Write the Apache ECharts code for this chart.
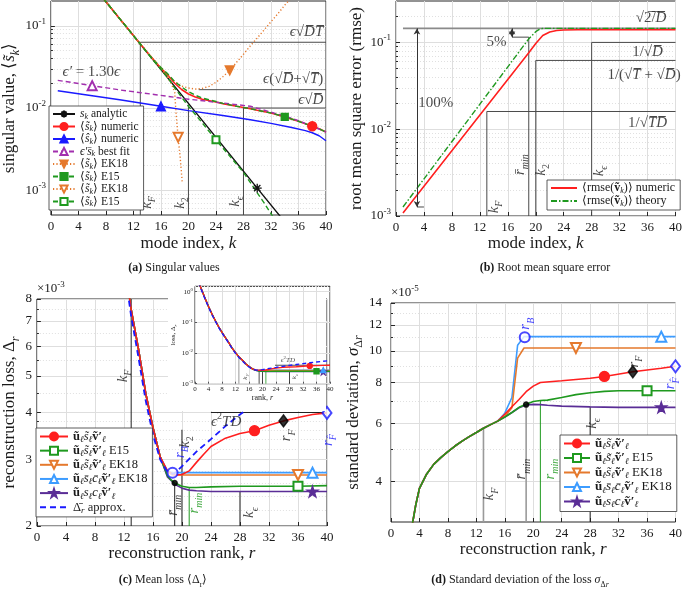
<!DOCTYPE html>
<html><head><meta charset="utf-8">
<script src="https://cdn.jsdelivr.net/npm/echarts@6.0.0/dist/echarts.min.js"></script>
<style>html,body{margin:0;padding:0;background:#fff;}#c{width:685px;height:595px;}</style>
</head><body><div id="c"></div>
<script>
// ================= DATA =================
// (a) singular values
const a_k_analytic = [1, 30, 40];
const a_s_analytic = [1.03, 0.00106, 0.0001];
const a_k_num = [1,5,10,12,13,14,15,16,17,18,19,20,21,22,24,25,27,29,30,32,34,36,38,39,40];
const a_s_num = [1.03,0.40,0.122,0.076,0.060,0.0475,0.038,0.0305,0.025,0.020,0.0168,0.0148,0.0136,0.0128,0.0118,0.0113,0.0105,0.0098,0.0094,0.0087,0.0078,0.0069,0.006,0.0056,0.0051];
const a_s_e15 = [1.03,0.40,0.122,0.076,0.060,0.0475,0.038,0.031,0.026,0.021,0.018,0.0158,0.0143,0.0132,0.012,0.0114,0.0105,0.0098,0.0094,0.0087,0.0078,0.0069,0.006,0.0056,0.0051];
const a_k_hat = [1,5,10,16,20,25,29,32,35,37,38,39,40];
const a_s_hat = [0.0162,0.0145,0.0126,0.0105,0.0093,0.0081,0.0072,0.0065,0.0058,0.0053,0.005,0.0046,0.004];
const a_k_fit = [1,6,10,15,20,25,29,32,34,36,38,40];
const a_s_fit = [0.0217,0.0187,0.0166,0.0146,0.0128,0.0115,0.0105,0.0089,0.008,0.007,0.006,0.0051];
const a_k_ek18 = [1,5,10,13,14,15,16,17,18,19,20,21,22,23,24,25,26,27,28,29,30,31,32,33,34,35];
const a_s_ek18 = [1.03,0.40,0.122,0.060,0.0475,0.038,0.031,0.025,0.021,0.0185,0.0175,0.017,0.0173,0.0183,0.0205,0.024,0.0286,0.036,0.045,0.057,0.071,0.089,0.112,0.14,0.178,0.22];
const a_k_ek18o = [1,5,10,13,14,15,16,17,17.5,18,18.2,18.5,18.8,19.1];
const a_s_ek18o = [1.03,0.40,0.122,0.060,0.0475,0.038,0.030,0.023,0.020,0.0155,0.0086,0.0044,0.0025,0.00124];
const a_k_e15o = [1,5,10,13,14,15,16,17,18,20,22,24,26,28,30,31,32,33];
const a_s_e15o = [1.03,0.40,0.122,0.060,0.047,0.037,0.0295,0.0235,0.0175,0.0105,0.0066,0.0041,0.0026,0.00165,0.00093,0.0007,0.00052,0.00038];

// (b) rmse
const b_k_num = [1,19,20,21,22,23,24,26,40];
const b_r_num = [0.00108,0.076,0.097,0.12,0.132,0.137,0.139,0.14,0.14];
const b_k_th = [1,19,20,20.5,21,21.5,40];
const b_r_th = [0.00127,0.11,0.133,0.141,0.145,0.145,0.145];

// (c) mean loss (units of 1e-3)
const c_trunk_r = [1,2,3,4,5,6,7,8,9,10,11,12,13,14,15,16,17];
const c_trunk_v = [2100,1130,600,330,190,115,72,47,32,22,14.5,10.3,7.5,5.9,4.5,3.65,3.05];
const c_red_r = [18,19,20,21,22,23,24,26,28,30,32,34,36,38,40];
const c_red_v = [2.8,2.73,2.74,2.8,2.95,3.1,3.25,3.42,3.52,3.58,3.7,3.8,3.88,3.95,3.99];
const c_e15_r = [18,18.5,19,20,21,22,24,28,32,36,40];
const c_e15_v = [2.72,2.65,2.6,2.55,2.53,2.53,2.54,2.55,2.55,2.55,2.56];
const c_ek18_r = [18,18.7,19,24,30,36,40];
const c_ek18_v = [2.78,2.73,2.73,2.73,2.73,2.73,2.73];
const c_ek18c_r = [18,18.7,24,30,38,40];
const c_ek18c_v = [2.8,2.77,2.77,2.77,2.77,2.77];
const c_pur_r = [18,18.5,19,20,21,22,24,28,32,38,40];
const c_pur_v = [2.7,2.64,2.58,2.52,2.49,2.48,2.47,2.47,2.47,2.47,2.47];
const c_appr_r = [1,2,3,4,5,6,7,8,9,10,11,12,13,14,15,16,17,18,18.7,19,20,22,24,26,28,30,32,34,36,38,40];
const c_appr_v = [2000,1080,570,315,180,110,69,45,30.5,21,14,9.8,7.2,5.6,4.3,3.5,3.0,2.78,2.75,2.76,2.88,3.15,3.4,3.68,3.95,4.22,4.5,4.8,5.1,5.4,5.7];
const c_pts_B = [18.7, 2.77], c_pts_min = [19, 2.6], c_pts_F = [34, 3.8], c_pts_Fh = [40, 3.99];

// (d) standard deviation (units of 1e-5)
const d_trunk_r = [2,3,3.5,4,5,6,7,8,9,10,11,12,13,14,15];
const d_trunk_v = [2.0,2.95,3.4,3.8,4.2,4.5,4.72,4.92,5.12,5.3,5.47,5.63,5.8,5.95,6.1];
const d_red_r = [16,17,18,19,20,21,24,28,30,34,38,40];
const d_red_v = [6.4,6.75,7.1,7.5,7.8,8.0,8.1,8.25,8.35,8.63,8.85,8.97];
const d_e15_r = [16,17,18,19,20,21,22,24,26,28,30,32,36,40];
const d_e15_v = [6.28,6.48,6.72,6.87,7.0,7.05,7.07,7.2,7.35,7.45,7.52,7.55,7.55,7.55];
const d_ek18_r = [16,17,17.8,18.7,26,40];
const d_ek18_v = [6.3,6.7,9.5,10.2,10.2,10.2];
const d_ek18c_r = [16,17,17.8,18.7,38,40];
const d_ek18c_v = [6.45,7.2,10.4,11.05,11.05,11.05];
const d_pur_r = [16,17,18,19,20,21,22,24,28,32,38,40];
const d_pur_v = [6.28,6.48,6.7,6.83,6.86,6.85,6.82,6.78,6.74,6.72,6.72,6.72];
const d_pts_B = [18.8, 11.0], d_pts_min = [19, 6.85], d_pts_F = [34, 8.63], d_pts_Fh = [40, 8.97];

// reference levels
const A_guides = [[13,5e-4,13,0.063],[13,0.063,40,0.063],[20,5e-4,20,0.011],[21.5,0.0167,40,0.0167],[28,5e-4,28,0.01],[28,0.01,40,0.01]];
const B_guides = [[28,1e-3,28,0.1],[28,0.1,40,0.1],[20,1e-3,20,0.062],[20,0.062,40,0.062],[13,1e-3,13,0.016],[13,0.016,40,0.016],[19,1e-3,19,0.115],[16.6,0.115,19,0.115],[3,0.00127,4,0.00127]];
const B_top = [[1,0.145,40,0.145]];
const C_guides = [[13,2,13,8],[19,2,19,2.6],[20,2,20,3.6],[28,2,28,2.47],[24,4,40,4]];
const C_gguides = [[21,2,21,2.53]];
const D_gray = [[13,3,13,5.8],[19,3,19,6.85]];
const D_green = [[21,3,21,7.05]];
const D_black = [[28,3,28,6.74]];
const I_gray = [[13,1e-3,13,0.0075]];
const I_black = [[19,1e-3,19,0.0026],[20,1e-3,20,0.0027],[28,1e-3,28,0.0025],[23.7,0.004,40,0.004]];
const I_green = [[21,1e-3,21,0.00253]];

// tick values
const logMajA = [1e-3,1e-2,1e-1];
const logMinA = [6e-4,7e-4,8e-4,9e-4,2e-3,3e-3,4e-3,5e-3,6e-3,7e-3,8e-3,9e-3,0.02,0.03,0.04,0.05,0.06,0.07,0.08,0.09];
const logMajB = [1e-3,1e-2,1e-1];
const logMinB = [2e-3,3e-3,4e-3,5e-3,6e-3,7e-3,8e-3,9e-3,0.02,0.03,0.04,0.05,0.06,0.07,0.08,0.09,0.2];
const majC = [2,3,4,5,6,7,8];
const minC = [2.2,2.4,2.6,2.8,3.2,3.4,3.6,3.8,4.5,5.5,6.5,7.5];
const majD = [4,6,8,10,12,14];
const minD = [5,7,9,11,13];
const majI = [1e-3,1e-2,1e-1,1];
const minI = [2e-3,3e-3,4e-3,5e-3,6e-3,7e-3,8e-3,9e-3,0.02,0.03,0.04,0.05,0.06,0.07,0.08,0.09,0.2,0.3,0.4,0.5,0.6,0.7,0.8,0.9];

// ================= STYLE / BUILD =================
const FF = 'Liberation Serif';
const TXT = '#1a1a1a';
const COL = {red:'#ff1f1f', blue:'#1a1aff', purple:'#a22fae', orange:'#e5792d', green:'#1f991f', lblue:'#3d9cff', dpurple:'#5a2d96', black:'#111111'};
const DASH = [5,3], DOT = [1.2,2.2], DASHDOT = [6,2,1.5,2];
const TFS = 17; // axis title font size

function rich(fs, L) {
  const s = Math.round(fs * 0.68);
  L = L || Math.round(fs * 1.4);
  const base = {fontFamily: FF, fontSize: fs, lineHeight: L};
  const sm = {fontFamily: FF, fontSize: s, lineHeight: s};
  return {
    n: Object.assign({}, base),
    i: Object.assign({fontStyle: 'italic'}, base),
    b: Object.assign({fontWeight: 'bold'}, base),
    sub: Object.assign({verticalAlign: 'bottom'}, sm),
    isub: Object.assign({verticalAlign: 'bottom', fontStyle: 'italic'}, sm),
    sup: Object.assign({verticalAlign: 'top'}, sm),
    isup: Object.assign({verticalAlign: 'top', fontStyle: 'italic'}, sm)
  };
}
function pow10(v) {
  const e = Math.round(Math.log10(v));
  return '{n|10}{sup|' + (e < 0 ? '-' : '') + Math.abs(e) + '}';
}
const zip = (xs, ys, f) => xs.map((x, i) => [x, f ? ys[i] * f : ys[i]]);

function curve(name, g, pts, st) {
  return {
    name, type: 'line', xAxisIndex: g, yAxisIndex: g, z: st.z || 3,
    symbol: st.symbol || 'circle', symbolSize: st.size || 7, symbolRotate: st.rotate || 0,
    showSymbol: true, clip: true, silent: true, animation: false, smooth: false,
    lineStyle: {color: st.color, width: st.width || 1.4, type: st.type || 'solid'},
    itemStyle: {color: st.color, borderColor: st.color, borderWidth: st.bw || 1.3},
    data: pts.map(p => (p[0] === st.mark ? {value: p} : {value: p, symbol: 'none'}))
  };
}
function guides(g, list, color, width, z) {
  return list.map(s => ({
    type: 'line', xAxisIndex: g, yAxisIndex: g, silent: true, symbol: 'none', z: z || 2,
    lineStyle: {color, width: width || 1, type: 'solid'}, data: [[s[0], s[1]], [s[2], s[3]]]
  }));
}
function points(g, list, z) {
  return {
    type: 'scatter', xAxisIndex: g, yAxisIndex: g, silent: true, clip: false, z: z || 5,
    data: list.map(p => ({value: p.v, symbol: p.symbol, symbolSize: p.size,
      itemStyle: {color: p.color, borderColor: p.color, borderWidth: 1.5}}))
  };
}
function notes(g, list, fs, z) {
  return {
    type: 'scatter', xAxisIndex: g, yAxisIndex: g, silent: true, clip: false, z: z || 6,
    symbol: 'circle', symbolSize: 1, itemStyle: {color: 'rgba(0,0,0,0)'},
    label: {show: true, position: 'inside', fontFamily: FF, fontSize: fs, color: TXT, rich: rich(fs)},
    data: list.map(n => ({value: [n.x, n.y], label: {formatter: () => n.t, rotate: n.r || 0,
      align: n.a || 'center', verticalAlign: 'middle', color: n.c || TXT}}))
  };
}

const grids = [
  {left: 43, top: 1, width: 283, height: 214},
  {left: 396, top: 1, width: 282, height: 215},
  {left: 31, top: 299, width: 296, height: 227},
  {left: 391, top: 303, width: 287, height: 219},
  {left: 195, top: 286.3, width: 135, height: 97.4, z: 11}
].map(g => Object.assign({show: true, borderColor: '#262626', borderWidth: 1, backgroundColor: 'rgba(0,0,0,0)', containLabel: false}, g));

function xAx(g, name, gap, extra) {
  return Object.assign({
    type: 'value', gridIndex: g, min: 0, max: 40, interval: 4, position: 'bottom',
    axisLine: {show: false},
    axisTick: {show: true, inside: true, length: 4, lineStyle: {color: '#262626'}},
    axisLabel: {fontFamily: FF, fontSize: 13, color: TXT, margin: 5},
    splitLine: {show: true, lineStyle: {color: '#dedede', width: 1}},
    name, nameLocation: 'middle', nameGap: gap,
    nameTextStyle: {fontFamily: FF, fontSize: TFS, color: TXT, rich: rich(TFS)}
  }, extra || {});
}
function yAx(g, min, max, majors, fmt, name, gap, extra) {
  return Object.assign({
    type: 'log', logBase: 10, gridIndex: g, min, max, position: 'left',
    axisLine: {show: false},
    axisTick: {show: true, inside: true, length: 4, customValues: majors, lineStyle: {color: '#262626'}},
    axisLabel: {customValues: majors, formatter: fmt, fontFamily: FF, fontSize: 13, color: TXT, margin: 5, rich: rich(13, 18)},
    splitLine: {show: true, lineStyle: {color: '#dedede', width: 1}},
    name, nameLocation: 'middle', nameRotate: 90, nameGap: gap,
    nameTextStyle: {fontFamily: FF, fontSize: TFS, color: TXT, rich: rich(TFS)}
  }, extra || {});
}
function yMinor(g, min, max, minors, extra) {
  return Object.assign({
    type: 'log', logBase: 10, gridIndex: g, min, max, position: 'left', offset: 0,
    axisLine: {show: false},
    axisTick: {show: true, inside: true, length: 2, customValues: minors, lineStyle: {color: '#262626'}},
    axisLabel: {show: false, customValues: minors},
    splitLine: {show: true, lineStyle: {color: '#e0e0e0', width: 1, type: [1, 2]}}
  }, extra || {});
}

const xAxis = [
  xAx(0, '{n|mode index, }{i|k}', 17),
  xAx(1, '{n|mode index, }{i|k}', 16),
  xAx(2, '{n|reconstruction rank, }{i|r}', 16),
  xAx(3, '{n|reconstruction rank, }{i|r}', 15),
  xAx(4, '{n|rank, }{i|r}', 9, {z: 12, axisTick: {show: true, inside: true, length: 2}, axisLabel: {fontFamily: FF, fontSize: 7, color: TXT, margin: 2},
    nameTextStyle: {fontFamily: FF, fontSize: 8, color: TXT, rich: rich(8)}})
];
const plainFmt = v => '{n|' + Math.round(v) + '}';
const yAxis = [
  yAx(0, 5e-4, 0.2, logMajA, pow10, '{n|singular value, ⟨}{i|s\u0303}{isub|k}{n|⟩}', 21),
  yAx(1, 1e-3, 0.3, logMajB, pow10, '{n|root mean square error (rmse)}', 27),
  yAx(2, 2, 8, majC, plainFmt, '{n|reconstruction loss, Δ}{isub|r}', 11),
  yAx(3, 3, 14, majD, plainFmt, '{n|standard deviation, }{i|σ}{sub|Δ}{isub|r}', 23, {axisLabel: {customValues: majD, formatter: plainFmt, fontFamily: FF, fontSize: 13, color: TXT, margin: 9, rich: rich(13, 18)}}),
  yAx(4, 1e-3, 1.5, majI, pow10, '{n|loss, Δ}{isub|r}', 13, {z: 12,
    axisTick: {show: true, inside: true, length: 2, customValues: majI},
    axisLabel: {customValues: majI, formatter: pow10, fontFamily: FF, fontSize: 7, color: TXT, margin: 2, rich: rich(7, 9)},
    nameTextStyle: {fontFamily: FF, fontSize: 7, color: TXT, rich: rich(7)}}),
  yMinor(0, 5e-4, 0.2, logMinA),
  yMinor(1, 1e-3, 0.3, logMinB),
  yMinor(2, 2, 8, minC, {name: '{n|×10}{sup|-3}', nameLocation: 'end', nameGap: 1,
    nameTextStyle: {align: 'left', fontFamily: FF, fontSize: 13, color: TXT, rich: rich(13)}}),
  yMinor(3, 3, 14, minD, {name: '{n|×10}{sup|-5}', nameLocation: 'end', nameGap: 1,
    nameTextStyle: {align: 'left', fontFamily: FF, fontSize: 13, color: TXT, rich: rich(13)}}),
  yMinor(4, 1e-3, 1.5, minI, {z: 12, axisTick: {show: false}})
];

const STAR = 'path://M50,2 L61,36 L97,36 L68,57 L79,92 L50,71 L21,92 L32,57 L3,36 L39,36 Z';
const series = [];
// ----- (a)
series.push(...guides(0, A_guides, '#4a4a4a', 1));
series.push(curve('a_an', 0, zip(a_k_analytic, a_s_analytic), {color: COL.black, symbol: 'path://M50,0 L50,100 M0,50 L100,50 M15,15 L85,85 M85,15 L15,85', size: 9, mark: 30, width: 1.4}));
series.push(curve('a_num', 0, zip(a_k_num, a_s_num), {color: COL.red, symbol: 'circle', size: 9, mark: 38, width: 1.6}));
series.push(curve('a_hat', 0, zip(a_k_hat, a_s_hat), {color: COL.blue, symbol: 'triangle', size: 9, mark: 16, width: 1.4}));
series.push(curve('a_fit', 0, zip(a_k_fit, a_s_fit), {color: COL.purple, symbol: 'emptyTriangle', size: 9, mark: 6, width: 1.4, type: DASH}));
series.push(curve('a_ek18', 0, zip(a_k_ek18, a_s_ek18), {color: COL.orange, symbol: 'triangle', rotate: 180, size: 9, mark: 26, width: 1.4, type: DOT}));
series.push(curve('a_e15', 0, zip(a_k_num, a_s_e15), {color: COL.green, symbol: 'rect', size: 7, mark: 34, width: 1.4, type: DASH}));
series.push(curve('a_ek18o', 0, zip(a_k_ek18o, a_s_ek18o), {color: COL.orange, symbol: 'emptyTriangle', rotate: 180, size: 9, mark: 18.5, width: 1.4, type: DOT}));
series.push(curve('a_e15o', 0, zip(a_k_e15o, a_s_e15o), {color: COL.green, symbol: 'emptyRect', size: 7, mark: 24, width: 1.4, type: DASH}));
series.push(notes(0, [
  {x: 39.6, y: 0.083, t: '{i|ϵ}{n|√}{i|D\u0305T\u0305}', a: 'right'},
  {x: 39.6, y: 0.0223, t: '{i|ϵ}{n|(√}{i|D\u0305}{n|+√}{i|T\u0305}{n|)}', a: 'right'},
  {x: 39.6, y: 0.0126, t: '{i|ϵ}{n|√}{i|D\u0305}', a: 'right'},
  {x: 1.7, y: 0.0275, t: '{i|ϵ′}{n| = 1.30}{i|ϵ}', a: 'left'},
  {x: 14.0, y: 7.1e-4, t: '{i|k}{isub|F}', r: 90},
  {x: 18.8, y: 7.0e-4, t: '{i|k}{sub|2}', r: 90},
  {x: 26.8, y: 7.3e-4, t: '{i|k}{isub|ϵ}', r: 90}
], 15));

// ----- (b)
series.push(...guides(1, B_top, '#8a8a8a', 1.6));
series.push(...guides(1, B_guides, '#4a4a4a', 1));
series.push({type: 'line', xAxisIndex: 1, yAxisIndex: 1, data: [], silent: true,
  markLine: {silent: true, symbol: ['arrow', 'arrow'], symbolSize: [5, 6], label: {show: false},
    lineStyle: {color: '#333', width: 1, type: 'solid'},
    data: [[{coord: [3, 0.00127]}, {coord: [3, 0.145]}], [{coord: [16.6, 0.115]}, {coord: [16.6, 0.145]}]]}});
series.push(curve('b_num', 1, zip(b_k_num, b_r_num), {color: COL.red, width: 1.6}));
series.push(curve('b_th', 1, zip(b_k_th, b_r_th), {color: COL.green, width: 1.4, type: DASHDOT}));
series.push(notes(1, [
  {x: 36.5, y: 0.19, t: '{n|√}{n|2\u0305/\u0305}{i|D\u0305}'},
  {x: 36, y: 0.078, t: '{n|1/√}{i|D\u0305}'},
  {x: 35.5, y: 0.0424, t: '{n|1/(√}{i|T\u0305}{n| + √}{i|D\u0305}{n|)}'},
  {x: 36, y: 0.0117, t: '{n|1/√}{i|T\u0305D\u0305}'},
  {x: 14.4, y: 0.1, t: '{n|5%}'},
  {x: 5.7, y: 0.02, t: '{n|100%}'},
  {x: 14.05, y: 1.27e-3, t: '{i|k}{isub|F}', r: 90},
  {x: 17.7, y: 3.9e-3, t: '{i|r\u0304}{isub|min}', r: 90},
  {x: 20.8, y: 3.4e-3, t: '{i|k}{sub|2}', r: 90},
  {x: 29.1, y: 3.3e-3, t: '{i|k}{isub|ϵ}', r: 90}
], 15));

// ----- (c)
const cAll = (r, v) => zip(c_trunk_r.concat(r), c_trunk_v.concat(v));
series.push(...guides(2, C_guides, '#222', 1));
series.push(...guides(2, C_gguides, COL.green, 1));
series.push(curve('c_pur', 2, cAll(c_pur_r, c_pur_v), {color: COL.dpurple, symbol: STAR, size: 11, mark: 38, width: 1.6}));
series.push(curve('c_ek18c', 2, cAll(c_ek18c_r, c_ek18c_v), {color: COL.lblue, symbol: 'emptyTriangle', size: 10, mark: 38, width: 1.6}));
series.push(curve('c_ek18', 2, cAll(c_ek18_r, c_ek18_v), {color: COL.orange, symbol: 'emptyTriangle', rotate: 180, size: 10, mark: 36, width: 1.6}));
series.push(curve('c_e15', 2, cAll(c_e15_r, c_e15_v), {color: COL.green, symbol: 'emptyRect', size: 9, mark: 36, width: 1.6}));
series.push(curve('c_red', 2, cAll(c_red_r, c_red_v), {color: COL.red, symbol: 'circle', size: 10, mark: 30, width: 1.6}));
series.push(curve('c_appr', 2, zip(c_appr_r, c_appr_v), {color: COL.blue, width: 1.8, type: [6, 4]}));
series.push(points(2, [
  {v: c_pts_B, symbol: 'emptyCircle', size: 10, color: COL.blue},
  {v: c_pts_min, symbol: 'circle', size: 5, color: '#000'},
  {v: c_pts_F, symbol: 'diamond', size: [9, 12], color: '#000'},
  {v: c_pts_Fh, symbol: 'emptyDiamond', size: [9, 12], color: COL.blue}
]));
series.push(notes(2, [
  {x: 26.1, y: 3.78, t: '{i|ϵ}{sup|2}{i|TD}'},
  {x: 11.9, y: 5.0, t: '{i|k}{isub|F}', r: 90},
  {x: 20.4, y: 3.34, t: '{i|k}{sub|2}', r: 90},
  {x: 18.8, y: 2.27, t: '{i|r\u0304}{isub|min}', r: 90},
  {x: 21.65, y: 2.3, t: '{i|r}{isub|min}', r: 90, c: COL.green},
  {x: 29.3, y: 2.17, t: '{i|k}{isub|ϵ}', r: 90},
  {x: 19.75, y: 3.14, t: '{i|r}{isub|B}', r: 90, c: COL.blue},
  {x: 34.4, y: 3.48, t: '{i|r}{isub|F}', r: 90},
  {x: 40.1, y: 3.38, t: '{i|r}{isub|F\u0302}', r: 90, c: COL.blue}
], 15));

// ----- inset of (c)
const iAll = (r, v) => zip(c_trunk_r.concat(r), c_trunk_v.concat(v), 1e-3);
series.push(...guides(4, I_gray, '#999', 1, 13));
series.push(...guides(4, I_black, '#222', 0.8, 13));
series.push(...guides(4, I_green, COL.green, 0.8, 13));
series.push(curve('i_pur', 4, iAll(c_pur_r, c_pur_v), {color: COL.dpurple, symbol: STAR, size: 6, mark: 38, width: 1.2, z: 14}));
series.push(curve('i_ek18c', 4, iAll(c_ek18c_r, c_ek18c_v), {color: COL.lblue, symbol: 'triangle', size: 5, mark: 38, width: 1.2, z: 14}));
series.push(curve('i_ek18', 4, iAll(c_ek18_r, c_ek18_v), {color: COL.orange, width: 1.2, z: 14}));
series.push(curve('i_e15', 4, iAll(c_e15_r, c_e15_v), {color: COL.green, symbol: 'rect', size: 5, mark: 36, width: 1.4, z: 14}));
series.push(curve('i_red', 4, iAll(c_red_r, c_red_v), {color: COL.red, symbol: 'circle', size: 5, mark: 34, width: 1.4, z: 14}));
series.push(curve('i_appr', 4, zip(c_appr_r, c_appr_v, 1e-3), {color: COL.blue, width: 1.4, type: [4, 3], z: 15}));
series.push(notes(4, [
  {x: 27.5, y: 0.0058, t: '{i|ϵ}{sup|2}{i|TD}'},
  {x: 14.8, y: 0.0017, t: '{i|k}{isub|F}', r: 90},
  {x: 29.3, y: 0.0017, t: '{i|k}{isub|ϵ}', r: 90}
], 7, 16));

// ----- (d)
const dAll = (r, v) => zip(d_trunk_r.concat(r), d_trunk_v.concat(v));
series.push(...guides(3, D_gray, '#9a9a9a', 1.6));
series.push(...guides(3, D_green, COL.green, 1));
series.push(...guides(3, D_black, '#222', 1));
series.push(curve('d_pur', 3, dAll(d_pur_r, d_pur_v), {color: COL.dpurple, symbol: STAR, size: 11, mark: 38, width: 1.6}));
series.push(curve('d_ek18c', 3, dAll(d_ek18c_r, d_ek18c_v), {color: COL.lblue, symbol: 'emptyTriangle', size: 10, mark: 38, width: 1.6}));
series.push(curve('d_ek18', 3, dAll(d_ek18_r, d_ek18_v), {color: COL.orange, symbol: 'emptyTriangle', rotate: 180, size: 10, mark: 26, width: 1.6}));
series.push(curve('d_red', 3, dAll(d_red_r, d_red_v), {color: COL.red, symbol: 'circle', size: 10, mark: 30, width: 1.6}));
series.push(curve('d_e15', 3, dAll(d_e15_r, d_e15_v), {color: COL.green, symbol: 'emptyRect', size: 9, mark: 36, width: 1.6}));
series.push(points(3, [
  {v: d_pts_B, symbol: 'emptyCircle', size: 10, color: COL.blue},
  {v: d_pts_min, symbol: 'circle', size: 5, color: '#000'},
  {v: d_pts_F, symbol: 'diamond', size: [9, 12], color: '#000'},
  {v: d_pts_Fh, symbol: 'emptyDiamond', size: [9, 12], color: COL.blue}
]));
series.push(notes(3, [
  {x: 18.9, y: 12.1, t: '{i|r}{isub|B}', r: 90, c: COL.blue},
  {x: 34.2, y: 9.27, t: '{i|r}{isub|F}', r: 90},
  {x: 39.3, y: 7.96, t: '{i|r}{isub|F\u0302}', r: 90, c: COL.blue},
  {x: 13.85, y: 3.65, t: '{i|k}{isub|F}', r: 90},
  {x: 18.35, y: 4.35, t: '{i|r\u0304}{isub|min}', r: 90},
  {x: 22.3, y: 4.35, t: '{i|r}{isub|min}', r: 90, c: COL.green},
  {x: 28.3, y: 6.0, t: '{i|k}{isub|ϵ}', r: 90}
], 15));

// ----- legends
const VEC = '{b|u\u0303}{isub|ℓ}';
const VT = '{b|v\u0303′}{isub|ℓ}';
const LEG = {
  a_an: '{i|s}{isub|k}{n| analytic}',
  a_num: '{n|⟨}{i|s\u0303}{isub|k}{n|⟩ numeric}',
  a_hat: '{n|⟨}{i|s\u0302}{isub|k}{n|⟩ numeric}',
  a_fit: '{i|ϵ′s\u0304}{isub|k}{n| best fit}',
  a_ek18: '{n|⟨}{i|s\u0303}{isub|k}{n|⟩ EK18}',
  a_e15: '{n|⟨}{i|s\u0303}{isub|k}{n|⟩ E15}',
  a_ek18o: '{n|⟨}{i|s\u0303}{isub|k}{n|⟩ EK18}',
  a_e15o: '{n|⟨}{i|s\u0303}{isub|k}{n|⟩ E15}',
  b_num: '{n|⟨rmse(}{b|v\u0303}{isub|k}{n|)⟩ numeric}',
  b_th: '{n|⟨rmse(}{b|v\u0303}{isub|k}{n|)⟩ theory}',
  c_red: VEC + '{i|s\u0303}{isub|ℓ}' + VT,
  c_e15: VEC + '{i|s\u0303}{isub|ℓ}' + VT + '{n| E15}',
  c_ek18: VEC + '{i|s\u0303}{isub|ℓ}' + VT + '{n| EK18}',
  c_ek18c: VEC + '{i|s\u0304}{isub|ℓ}{i|c\u0304}{isub|ℓ}' + VT + '{n| EK18}',
  c_pur: VEC + '{i|s}{isub|ℓ}{i|c}{isub|ℓ}' + VT,
  c_appr: '{n|Δ\u0304}{isub|r}{n| approx.}'
};
LEG.d_red = LEG.c_red; LEG.d_e15 = LEG.c_e15; LEG.d_ek18 = LEG.c_ek18; LEG.d_ek18c = LEG.c_ek18c; LEG.d_pur = LEG.c_pur;
const NOSYM = ['b_num', 'b_th', 'c_appr'];
function legend(names, left, top, fs, L, iw, ih) {
  return {data: names.map(n => NOSYM.indexOf(n) >= 0 ? {name: n, itemStyle: {opacity: 0}} : n),
    orient: 'vertical', left, top, itemGap: 0, itemWidth: iw, itemHeight: ih,
    padding: [2, 5, 2, 3], borderColor: '#333', borderWidth: 0.8, backgroundColor: '#fff',
    selectedMode: false, z: 8, formatter: n => LEG[n],
    textStyle: {fontFamily: FF, fontSize: fs, color: TXT, rich: rich(fs, L)}};
}

const capRich = Object.assign(rich(12), {b: {fontFamily: FF, fontSize: 12, fontWeight: 'bold', lineHeight: 16}});
function caption(x, y, t) {
  return {type: 'text', x, y, silent: true, style: {text: t, align: 'center', verticalAlign: 'middle', fontFamily: FF, fontSize: 12, fill: TXT, rich: capRich}};
}

const option = {
  animation: false,
  grid: grids, xAxis, yAxis, series,
  legend: [
    legend(['a_an','a_num','a_hat','a_fit','a_ek18','a_e15','a_ek18o','a_e15o'], 49, 106, 11.5, 13, 22, 9),
    legend(['b_num','b_th'], 547, 180, 12, 14, 26, 8),
    legend(['c_red','c_e15','c_ek18','c_ek18c','c_pur','c_appr'], 36, 428, 12.5, 15.3, 28, 10),
    legend(['d_red','d_e15','d_ek18','d_ek18c','d_pur'], 560, 435, 13, 16, 26, 10)
  ],
  graphic: [
    {type: 'rect', shape: {x: 168, y: 281, width: 158, height: 130}, style: {fill: '#fff'}, z: 10, silent: true},
    caption(174, 268, '{b|(a)}{n| Singular values}'),
    caption(545, 268, '{b|(b)}{n| Root mean square error}'),
    caption(163, 580, '{b|(c)}{n| Mean loss ⟨Δ}{sub|r}{n|⟩}'),
    caption(520, 580, '{b|(d)}{n| Standard deviation of the loss }{i|σ}{sub|Δ}{isub|r}')
  ]
};
const chart = echarts.init(document.getElementById('c'), null, {renderer: 'canvas', width: 685, height: 595});
chart.setOption(option);
</script></body></html>
